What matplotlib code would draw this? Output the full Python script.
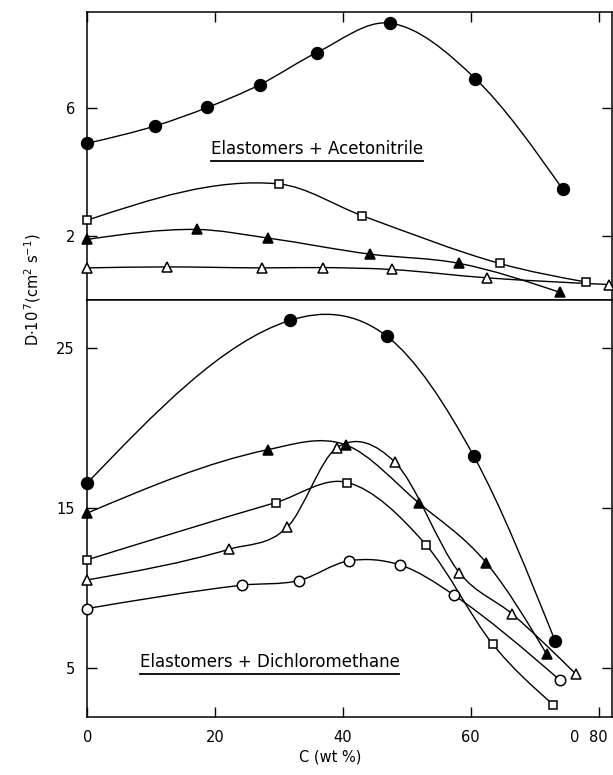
import numpy as np
import matplotlib.pyplot as plt
from matplotlib.path import Path
from matplotlib.patches import PathPatch

# D.10^7 (cm^2 s^-1) against concentration C (wt %) for four elastomers

# Elastomers + Acetonitrile
acn_circle_c = [0, 10.6, 18.8, 27.0, 35.9, 47.3, 60.7, 74.4]
acn_circle_d = [4.89, 5.43, 6.01, 6.72, 7.72, 8.64, 6.91, 3.45]
acn_square_c = [0, 30.0, 43.0, 64.5, 78.0]
acn_square_d = [2.49, 3.62, 2.63, 1.14, 0.56]
acn_tri_c = [0, 17.1, 28.3, 44.2, 58.2, 73.9]
acn_tri_d = [1.89, 2.20, 1.93, 1.43, 1.14, 0.24]
acn_otri_c = [0, 12.5, 27.4, 36.9, 47.6, 62.5, 81.7]
acn_otri_d = [1.00, 1.03, 1.00, 1.01, 0.95, 0.69, 0.48]

# Elastomers + Dichloromethane
dcm_circle_c = [0, 31.7, 46.9, 60.5, 73.2]
dcm_circle_d = [16.55, 26.72, 25.72, 18.21, 6.67]
dcm_tri_c = [0, 28.2, 40.4, 51.9, 62.4, 71.9]
dcm_tri_d = [14.67, 18.63, 18.94, 15.29, 11.57, 5.83]
dcm_otri_c = [0, 22.2, 31.3, 39.0, 48.1, 58.2, 66.5, 76.5]
dcm_otri_d = [10.49, 12.41, 13.79, 18.74, 17.86, 10.95, 8.35, 4.58]
dcm_square_c = [0, 29.5, 40.7, 53.0, 63.4, 72.9]
dcm_square_d = [11.75, 15.33, 16.58, 12.68, 6.49, 2.69]
dcm_ocircle_c = [0, 24.2, 33.1, 40.9, 48.9, 57.3, 73.9]
dcm_ocircle_d = [8.70, 10.16, 10.45, 11.68, 11.43, 9.56, 4.24]

x_ticks = [0, 20, 40, 60, 80]
top_ticks = [2, 6]
bottom_ticks = [5, 15, 25]

plt.rcParams['font.family'] = ['DejaVu Sans']
plt.rcParams['font.size'] = 10.5


def slopes(x, y):
    # mean of neighbouring secants inside, "natural" condition at the ends
    s = np.diff(y) / np.diff(x)
    m = np.empty_like(x)
    m[1:-1] = (s[:-1] + s[1:]) / 2
    if len(x) > 2:
        m[0] = (3 * s[0] - m[1]) / 2
        m[-1] = (3 * s[-1] - m[-2]) / 2
    else:
        m[:] = s[0]
    return m


def smooth_path(x, y):
    # piecewise cubic Hermite curve, written as bezier segments
    x = np.asarray(x, float)
    y = np.asarray(y, float)
    m = slopes(x, y)
    verts = [(x[0], y[0])]
    codes = [Path.MOVETO]
    for i in range(len(x) - 1):
        h = x[i + 1] - x[i]
        verts += [(x[i] + h / 3, y[i] + m[i] * h / 3),
                  (x[i + 1] - h / 3, y[i + 1] - m[i + 1] * h / 3),
                  (x[i + 1], y[i + 1])]
        codes += [Path.CURVE4] * 3
    return Path(verts, codes)


def series(ax, x, y, marker, filled, ms):
    ax.add_patch(PathPatch(smooth_path(x, y), fill=False, lw=1.0, ec='black', zorder=2))
    ax.plot(x, y, ls='none', marker=marker, ms=ms, mew=1.1, mec='black',
            mfc='black' if filled else 'white', zorder=3, clip_on=False)


fig = plt.figure(figsize=(6.13, 7.75), dpi=100)
ax1 = fig.add_axes([0.1424, 0.613, 0.856, 0.372])
ax2 = fig.add_axes([0.1424, 0.0745, 0.856, 0.5385])

series(ax1, acn_circle_c, acn_circle_d, 'o', True, 8.5)
series(ax1, acn_square_c, acn_square_d, 's', False, 5.5)
series(ax1, acn_tri_c, acn_tri_d, '^', True, 7.5)
series(ax1, acn_otri_c, acn_otri_d, '^', False, 7.5)

series(ax2, dcm_circle_c, dcm_circle_d, 'o', True, 8.5)
series(ax2, dcm_tri_c, dcm_tri_d, '^', True, 7.5)
series(ax2, dcm_otri_c, dcm_otri_d, '^', False, 7.5)
series(ax2, dcm_square_c, dcm_square_d, 's', False, 5.5)
series(ax2, dcm_ocircle_c, dcm_ocircle_d, 'o', False, 7.5)

for ax in (ax1, ax2):
    ax.set_xlim(0, 82.1)
    for s in ax.spines.values():
        s.set_linewidth(1.1)
    ax.tick_params(direction='in', length=7, width=1.0, right=True, labelsize=10.5, pad=9)

ax1.set_ylim(0, 9.0)
ax1.set_yticks(top_ticks)
ax1.set_xticks(x_ticks)
ax1.tick_params(axis='x', top=True, bottom=False, labelbottom=False)

ax2.set_ylim(1.9, 28.0)
ax2.set_yticks(bottom_ticks)
ax2.set_xticks(x_ticks)
ax2.tick_params(axis='x', top=False, pad=9)
# stray "0" printed beside the 80 label
ax2.set_xticks([76.2], labels=['0'], minor=True)
ax2.tick_params(axis='x', which='minor', length=0, pad=9, labelsize=10.5)

t1 = ax1.text(36, 4.7, 'Elastomers + Acetonitrile', ha='center', va='center', fontsize=12)
t2 = ax2.text(28.5, 5.38, 'Elastomers + Dichloromethane', ha='center', va='center', fontsize=12)

fig.text(0.054, 0.626, r'D$\cdot$10$^{\,7}$(cm$^{2}$ s$^{-1}$)', rotation=90,
         ha='center', va='center', fontsize=10.5)
fig.text(0.538, 0.023, 'C (wt %)', ha='center', va='center', fontsize=10.5)

# underline both titles using their rendered extents
fig.canvas.draw()
r = fig.canvas.get_renderer()
for ax, t in ((ax1, t1), (ax2, t2)):
    bb = t.get_window_extent(r)
    inv = ax.transData.inverted()
    (x0, y0), (x1, _) = inv.transform([(bb.x0, bb.y0 - 3), (bb.x1, bb.y0 - 3)])
    ax.plot([x0, x1], [y0, y0], color='black', lw=1.3)

fig.savefig('out.png', dpi=100)
